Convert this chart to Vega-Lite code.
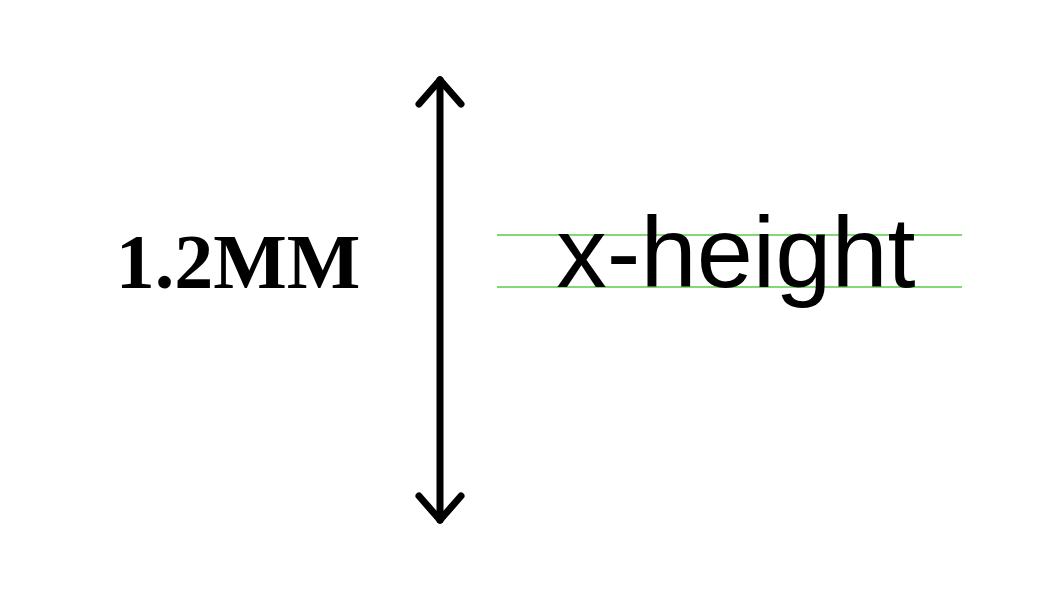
{
  "$schema": "https://vega.github.io/schema/vega-lite/v6.json",
  "width": 1050,
  "height": 600,
  "autosize": {"type": "fit", "contains": "padding"},
  "padding": 0,
  "background": "white",
  "config": {"view": {"stroke": null}},
  "datasets": {
    "segs": [
      {"kind": "arrow", "x": 440, "y": 80, "x2": 440, "y2": 520},
      {"kind": "arrow", "x": 419, "y": 104, "x2": 440, "y2": 80},
      {"kind": "arrow", "x": 461, "y": 104, "x2": 440, "y2": 80},
      {"kind": "arrow", "x": 419, "y": 496, "x2": 440, "y2": 520},
      {"kind": "arrow", "x": 461, "y": 496, "x2": 440, "y2": 520}
    ],
    "guides": [
      {"x": 497, "x2": 962, "y": 235},
      {"x": 497, "x2": 962, "y": 287}
    ],
    "labels": [
      {"label": "1.2MM", "x": 238, "y": 288}
    ],
    "samples": [
      {"label": "x-height", "x": 736, "y": 287}
    ]
  },
  "layer": [
    {
      "data": {"name": "guides"},
      "mark": {"type": "rule", "color": "#5cc84a", "strokeWidth": 1.5},
      "encoding": {
        "x": {"field": "x", "type": "quantitative", "scale": {"domain": [0, 1050]}, "axis": null},
        "x2": {"field": "x2"},
        "y": {"field": "y", "type": "quantitative", "scale": {"domain": [0, 600], "reverse": true}, "axis": null}
      }
    },
    {
      "data": {"name": "segs"},
      "mark": {"type": "rule", "color": "black", "strokeWidth": 7, "strokeCap": "round"},
      "encoding": {
        "x": {"field": "x", "type": "quantitative", "scale": {"domain": [0, 1050]}, "axis": null},
        "x2": {"field": "x2"},
        "y": {"field": "y", "type": "quantitative", "scale": {"domain": [0, 600], "reverse": true}, "axis": null},
        "y2": {"field": "y2"}
      }
    },
    {
      "data": {"name": "labels"},
      "mark": {"type": "text", "font": "Liberation Serif", "fontWeight": "bold", "fontSize": 78, "baseline": "alphabetic", "align": "center", "color": "black"},
      "encoding": {
        "x": {"field": "x", "type": "quantitative", "scale": {"domain": [0, 1050]}, "axis": null},
        "y": {"field": "y", "type": "quantitative", "scale": {"domain": [0, 600], "reverse": true}, "axis": null},
        "text": {"field": "label"}
      }
    },
    {
      "data": {"name": "samples"},
      "mark": {"type": "text", "font": "Liberation Sans", "fontSize": 101, "baseline": "alphabetic", "align": "center", "color": "black"},
      "encoding": {
        "x": {"field": "x", "type": "quantitative", "scale": {"domain": [0, 1050]}, "axis": null},
        "y": {"field": "y", "type": "quantitative", "scale": {"domain": [0, 600], "reverse": true}, "axis": null},
        "text": {"field": "label"}
      }
    }
  ]
}
